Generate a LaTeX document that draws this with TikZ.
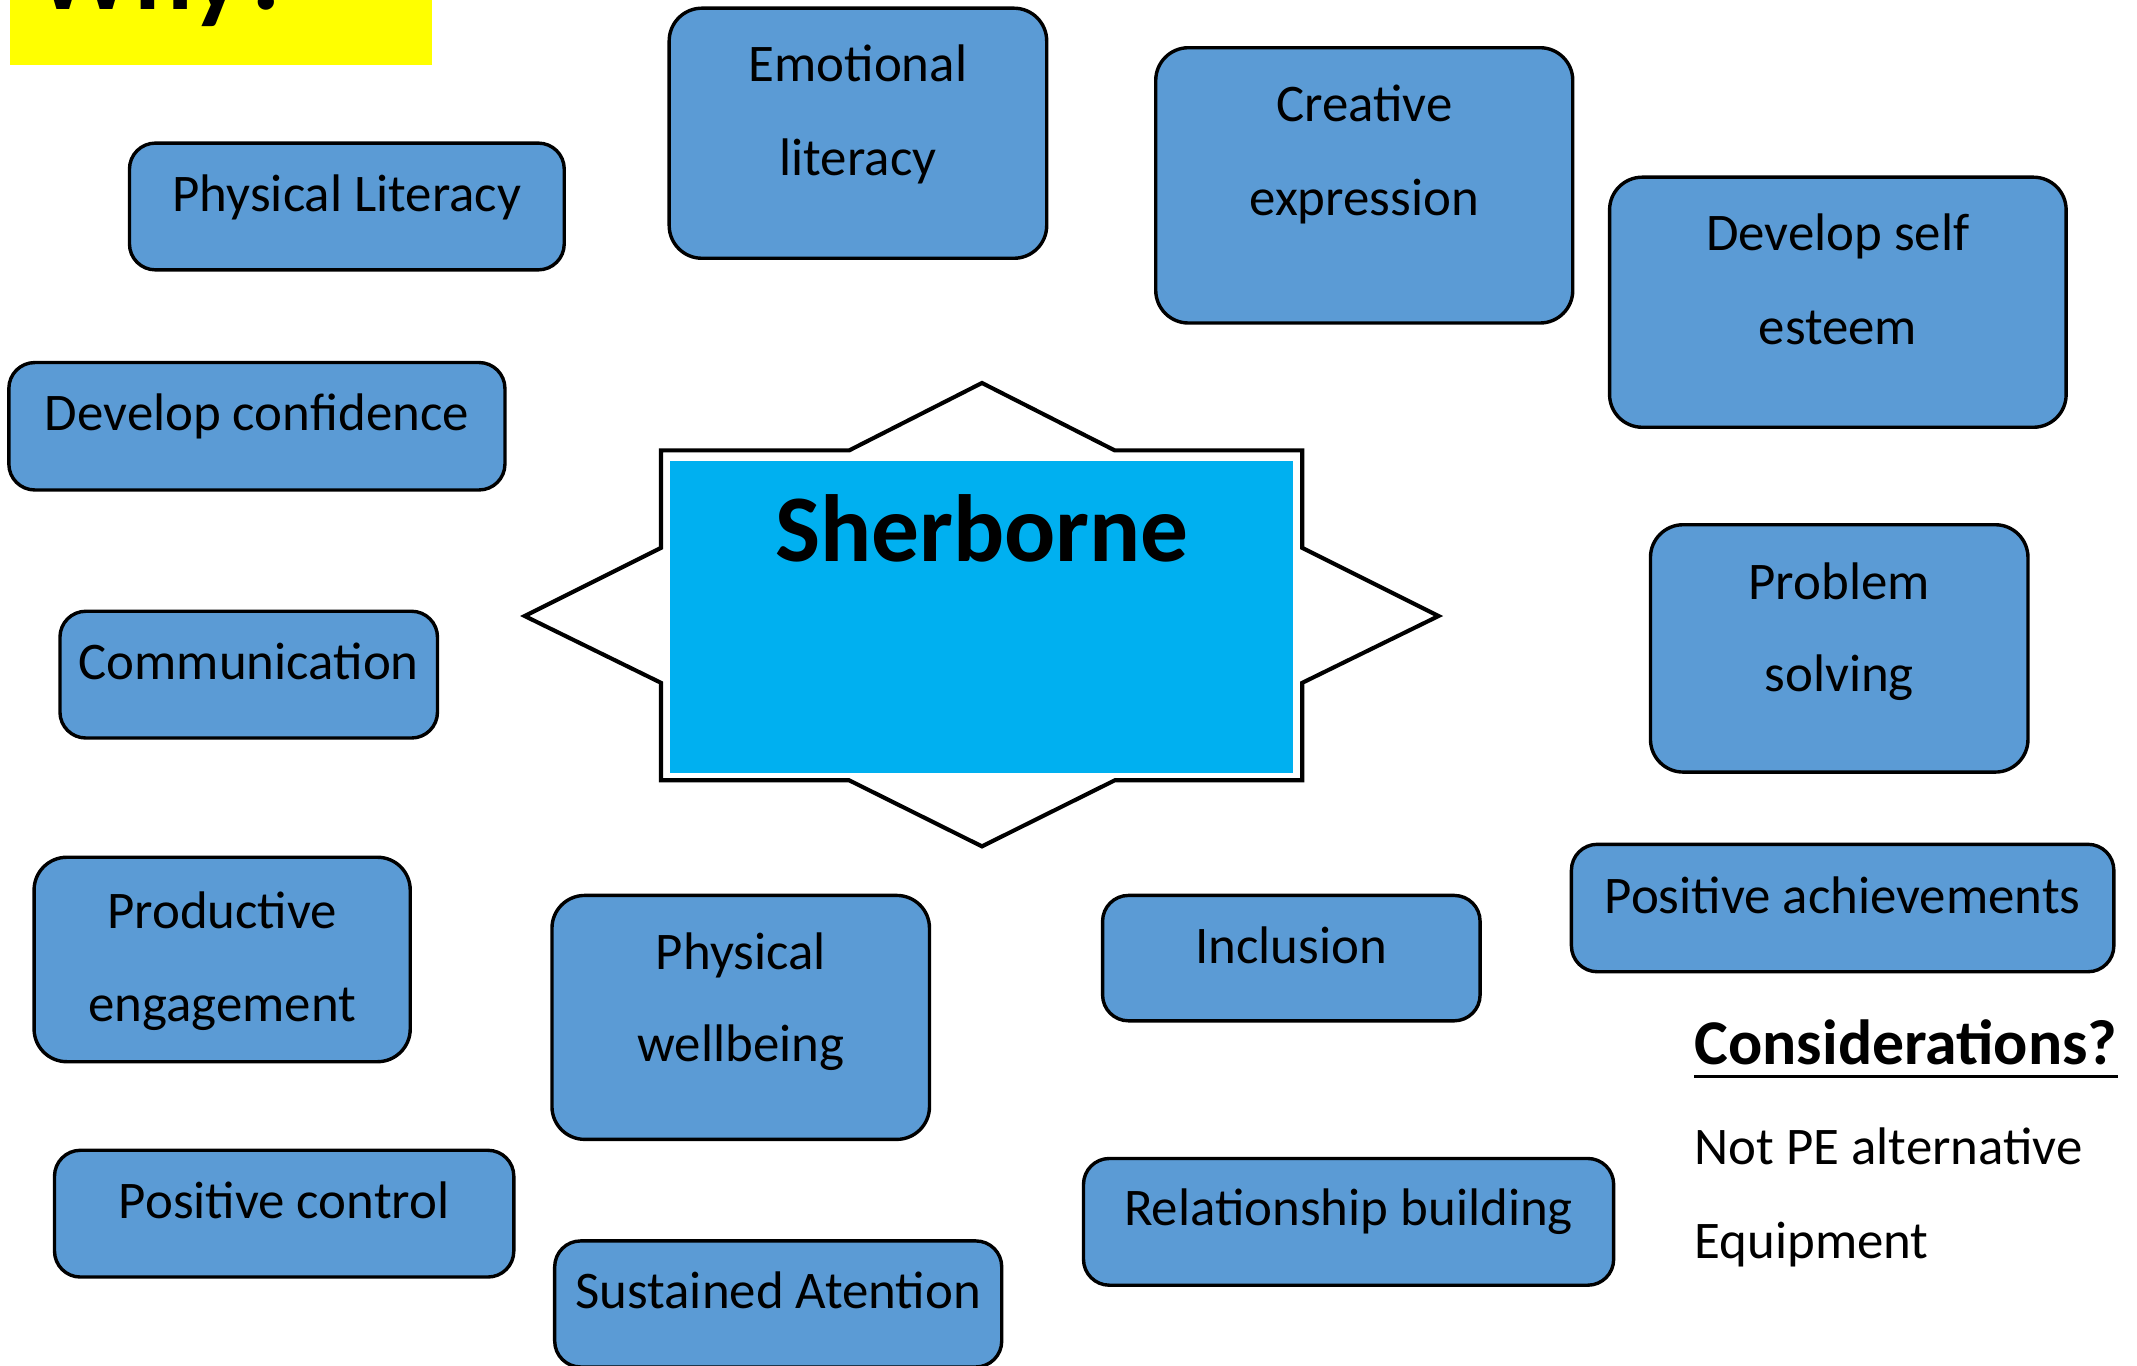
\documentclass[tikz,border=0pt]{standalone}
\usepackage{fontspec}
\setmainfont{Carlito}
\usetikzlibrary{fit}
\definecolor{boxblue}{HTML}{5B9BD5}
\definecolor{sherblue}{HTML}{00B0F0}
\definecolor{whyyellow}{HTML}{FFFF00}
\tikzset{
  bx/.style={draw=black, line width=1.25pt, fill=boxblue, rounded corners=9.5pt, inner sep=0pt},
  bxtall/.style={bx, rounded corners=12pt},
  txt/.style={anchor=base, inner sep=0pt, font=\fontsize{19.4}{23}\selectfont},
  side/.style={anchor=base west, inner sep=0pt, font=\fontsize{19.4}{23}\selectfont},
}
\begin{document}
\begin{tikzpicture}[x=0.5pt, y=-0.5pt]
\useasboundingbox (0,0) rectangle (1568,1002);

% Why? banner
\node[fill=whyyellow, inner sep=0pt, fit={(7,-10) (317,48)}] (whybg) {};
\node[anchor=base west, inner sep=0pt, font=\fontsize{40}{48}\selectfont\bfseries] (why) at (26,6.6) {Why?};

% Star
\draw[line width=1.5pt, fill=white] (720.5,281) -- (818,330.5) -- (955.5,330.5) -- (955.5,402) -- (1055.5,452) -- (955.5,501) -- (955.5,572.5) -- (818,572.5) -- (720.5,621) -- (623,572.5) -- (485,572.5) -- (485,501) -- (385,452) -- (485,402) -- (485,330.5) -- (623,330.5) -- cycle;
\node[fill=sherblue, inner sep=0pt, fit={(491.5,338) (948.5,567)}] (sher) {};
\node[anchor=base, inner sep=0pt, font=\fontsize{35}{42}\selectfont\bfseries] (shertxt) at (720.5,412) {Sherborne};

% Boxes
\node[bx, fit={(95,105) (414,198)}] (pl) {};
\node[txt] at (254.5,155) {Physical Literacy};

\node[bxtall, fit={(491,6) (768,189.5)}] (el) {};
\node[txt] at (629.5,60) {Emotional};
\node[txt] at (629.5,129) {literacy};

\node[bxtall, fit={(848,35) (1154,237)}] (ce) {};
\node[txt] at (1001,89.3) {Creative};
\node[txt] at (1001,157.8) {expression};

\node[bxtall, fit={(1181,130) (1516,313.5)}] (dse) {};
\node[txt] at (1348.5,184) {Develop self};
\node[txt] at (1348.5,252.5) {esteem};

\node[bx, fit={(6.5,266) (370.5,359.5)}] (dc) {};
\node[txt] at (188.5,316) {Develop confidence};

\node[bx, fit={(44,448.5) (321,541.5)}] (com) {};
\node[txt] at (182.5,498.4) {Communication};

\node[bxtall, fit={(1211,385) (1488,566.5)}] (ps) {};
\node[txt] at (1349.5,439.7) {Problem};
\node[txt] at (1349.5,507.5) {solving};

\node[bx, fit={(1153,619.5) (1551,713)}] (pa) {};
\node[txt] at (1352,670) {Positive achievements};

\node[bxtall, fit={(25,629) (301,779)}] (pe) {};
\node[txt] at (163,681) {Productive};
\node[txt] at (163,749.6) {engagement};

\node[bxtall, fit={(405,657) (682,836)}] (pw) {};
\node[txt] at (543.5,711.2) {Physical};
\node[txt] at (543.5,779) {wellbeing};

\node[bx, fit={(809,657) (1086,749)}] (inc) {};
\node[txt] at (947.5,707) {Inclusion};

\node[bx, fit={(40,844) (377,937)}] (pc) {};
\node[txt] at (208.5,894) {Positive control};

\node[bx, fit={(795,850) (1184,943)}] (rb) {};
\node[txt] at (989.5,899) {Relationship building};

\node[bx, fit={(407,910.5) (735,1003)}] (sa) {};
\node[txt] at (571,960) {Sustained Atention};

% Considerations
\node[anchor=base west, inner sep=0pt, font=\fontsize{23.4}{28}\selectfont\bfseries] (cons) at (1243,781) {Considerations?};
\draw[line width=1pt] ([yshift=-4.5pt]cons.base west) -- ([yshift=-4.5pt]cons.base east);
\node[side] (npe) at (1243,854.5) {Not PE alternative};
\node[side] (eq) at (1243,923.5) {Equipment};
\end{tikzpicture}
\end{document}
